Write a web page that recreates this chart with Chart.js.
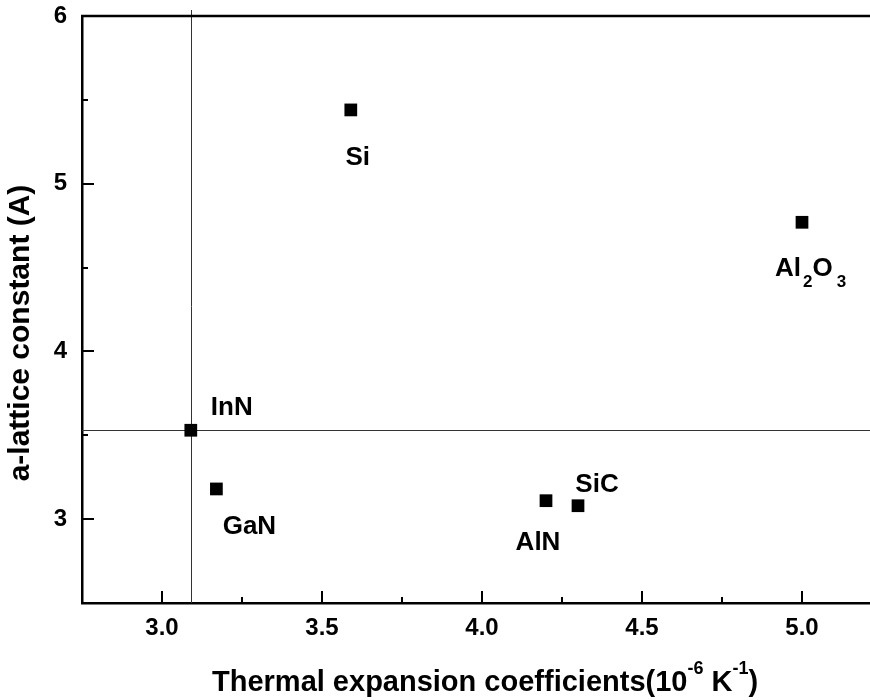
<!DOCTYPE html>
<html>
<head>
<meta charset="utf-8">
<script src="https://cdn.jsdelivr.net/npm/chart.js@4.4.1/dist/chart.umd.min.js"></script>
<style>
  html, body { margin: 0; padding: 0; background: #fff; }
  canvas { display: block; }
</style>
</head>
<body>
<canvas id="myChart" width="870" height="700"></canvas>
<script>
// data
const materials = ['InN', 'GaN', 'Si', 'AlN', 'SiC', 'Al2O3'];
const thermalExpansion = [3.09, 3.17, 3.59, 4.20, 4.30, 5.00];
const latticeConstant = [3.53, 3.18, 5.44, 3.11, 3.08, 4.77];

const xTicks = [3.0, 3.5, 4.0, 4.5, 5.0];
const xMinorTicks = [3.25, 3.75, 4.25, 4.75];
const yTicks = [3, 4, 5, 6];
const yMinorTicks = [3.5, 4.5, 5.5];

// reference lines through InN
const refX = 3.09;
const refY = 3.53;

const FONT = "'Liberation Sans', Arial, Helvetica, sans-serif";

// label offsets (px) from each marker
const labelOffsets = {
    InN: [41, -15],
    GaN: [33, 45],
    Si: [7, 55],
    AlN: [-8, 49],
    SiC: [19, -14]
};

const ctx = document.getElementById('myChart').getContext('2d');

const points = materials.map((m, i) => ({ x: thermalExpansion[i], y: latticeConstant[i] }));

function noPadding(s) {
    s.paddingTop = 0;
    s.paddingBottom = 0;
    s.paddingLeft = 0;
    s.paddingRight = 0;
}

const refLines = {
    id: 'refLines',
    beforeDatasetsDraw(chart) {
        const c = chart.ctx;
        const area = chart.chartArea;
        const xs = chart.scales.x, ys = chart.scales.y;
        const px = xs.getPixelForValue(refX);
        const py = ys.getPixelForValue(refY);
        c.save();
        c.strokeStyle = '#333';
        c.lineWidth = 1;
        c.beginPath();
        c.moveTo(Math.round(px) + 0.5, area.top - 6);
        c.lineTo(Math.round(px) + 0.5, area.bottom);
        c.moveTo(area.left, Math.round(py) + 0.5);
        c.lineTo(area.right, Math.round(py) + 0.5);
        c.stroke();
        c.restore();
    }
};

const frameAndTicks = {
    id: 'frameAndTicks',
    afterDraw(chart) {
        const c = chart.ctx;
        const area = chart.chartArea;
        const xs = chart.scales.x, ys = chart.scales.y;
        c.save();
        c.strokeStyle = '#000';
        // top frame
        c.lineWidth = 2.5;
        c.beginPath();
        c.moveTo(area.left - 1, area.top);
        c.lineTo(area.right, area.top);
        c.stroke();
        // inward ticks
        c.lineWidth = 2;
        c.beginPath();
        xTicks.forEach(v => {
            const p = Math.round(xs.getPixelForValue(v));
            c.moveTo(p, area.bottom);
            c.lineTo(p, area.bottom - 12);
        });
        xMinorTicks.forEach(v => {
            const p = Math.round(xs.getPixelForValue(v));
            c.moveTo(p, area.bottom);
            c.lineTo(p, area.bottom - 6);
        });
        yTicks.forEach(v => {
            const p = Math.round(ys.getPixelForValue(v));
            c.moveTo(area.left, p);
            c.lineTo(area.left + 12, p);
        });
        yMinorTicks.forEach(v => {
            const p = Math.round(ys.getPixelForValue(v));
            c.moveTo(area.left, p);
            c.lineTo(area.left + 6, p);
        });
        c.stroke();

        // point labels
        c.fillStyle = '#000';
        c.font = 'bold 26px ' + FONT;
        c.textAlign = 'center';
        c.textBaseline = 'alphabetic';
        materials.forEach((m, i) => {
            const px = xs.getPixelForValue(thermalExpansion[i]);
            const py = ys.getPixelForValue(latticeConstant[i]);
            if (labelOffsets[m]) {
                c.fillText(m, px + labelOffsets[m][0], py + labelOffsets[m][1]);
            } else {
                // Al2O3 with subscripts
                let x = px - 27;
                const base = py + 54;
                c.textAlign = 'left';
                const parts = [['Al', 26, 0, 2], ['2', 17, 11, 0], ['O', 26, 0, 4], ['3', 17, 11, 0]];
                parts.forEach(([t, size, drop, gap]) => {
                    c.font = 'bold ' + size + 'px ' + FONT;
                    c.fillText(t, x, base + drop);
                    x += c.measureText(t).width + gap;
                });
                c.textAlign = 'center';
                c.font = 'bold 26px ' + FONT;
            }
        });

        // x title with superscripts
        c.textAlign = 'left';
        let tx = 212;
        const tb = 691;
        const xParts = [['Thermal expansion coefficients(10', 29, 0], ['-6', 18, -17], [' K', 29, 0], ['-1', 18, -17], [')', 29, 0]];
        xParts.forEach(([t, size, rise]) => {
            c.font = 'bold ' + size + 'px ' + FONT;
            c.fillText(t, tx, tb + rise);
            tx += c.measureText(t).width;
        });

        // y title
        c.translate(29, 333);
        c.rotate(-Math.PI / 2);
        c.textAlign = 'center';
        c.font = 'bold 30px ' + FONT;
        c.fillText('a-lattice constant (A)', 0, 0);
        c.restore();
    }
};

const tickFont = { family: FONT, size: 24, weight: 'bold' };

new Chart(ctx, {
    type: 'scatter',
    data: {
        datasets: [{
            data: points,
            pointStyle: 'rect',
            pointRadius: 9,
            pointHoverRadius: 9,
            backgroundColor: '#000',
            borderColor: '#000',
            borderWidth: 0
        }]
    },
    options: {
        responsive: false,
        animation: false,
        layout: { autoPadding: false, padding: { top: 16, right: 0, left: 0, bottom: 0 } },
        plugins: {
            legend: { display: false },
            tooltip: { enabled: false }
        },
        scales: {
            x: {
                type: 'linear',
                min: 2.75,
                max: 5.2125,
                afterBuildTicks: s => { s.ticks = xTicks.map(v => ({ value: v })); },
                afterFit: s => { s.height = 97; noPadding(s); },
                ticks: {
                    font: tickFont,
                    color: '#000',
                    padding: 11,
                    callback: v => v.toFixed(1)
                },
                grid: { display: false, drawTicks: false },
                border: { display: true, color: '#000', width: 2.5 }
            },
            y: {
                type: 'linear',
                min: 2.5,
                max: 6,
                afterBuildTicks: s => { s.ticks = yTicks.map(v => ({ value: v })); },
                afterFit: s => { s.width = 82; noPadding(s); },
                ticks: {
                    font: tickFont,
                    color: '#000',
                    padding: 15,
                    callback: v => String(v)
                },
                grid: { display: false, drawTicks: false },
                border: { display: true, color: '#000', width: 2.5 }
            }
        }
    },
    plugins: [refLines, frameAndTicks]
});
</script>
</body>
</html>
